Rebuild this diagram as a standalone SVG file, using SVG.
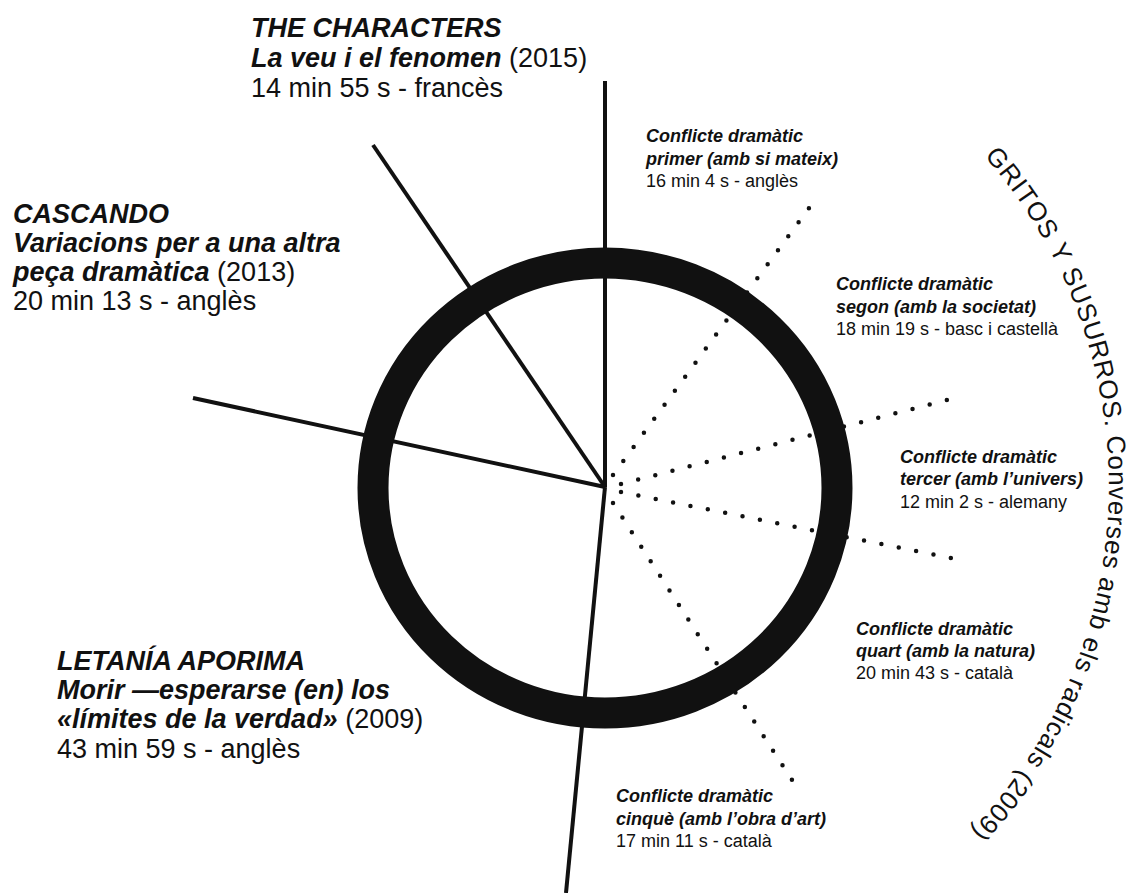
<svg xmlns="http://www.w3.org/2000/svg" width="1142" height="893" viewBox="0 0 1142 893">
<style>
text { font-family: "Liberation Sans", Arial, Helvetica, sans-serif; fill: #111; }
.big { font-size: 27px; }
.sm { font-size: 18px; }
.bi { font-weight: bold; font-style: italic; }
.ln { stroke: #111; stroke-width: 4; fill: none; }
.dots { stroke: #111; stroke-width: 4.5; stroke-linecap: round; stroke-dasharray: 0 1; fill: none; }
.arc { font-size: 26px; letter-spacing: 0.9px; }
</style>
<defs>
<path id="arcpath" d="M 984.3 156.2 A 499 499 0 0 1 859.5 918.1" fill="none"/>
</defs>
<rect width="1142" height="893" fill="#ffffff"/>
<g id="connectors">
<line class="ln" x1="605" y1="81" x2="605" y2="487"/>
<line class="ln" x1="373" y1="145" x2="605" y2="487"/>
<line class="ln" x1="193" y1="398" x2="605" y2="487"/>
<line class="ln" x1="605" y1="487" x2="566" y2="893"/>
<path class="dots" pathLength="19.01" d="M613 475 L809 208"/>
<path class="dots" pathLength="19.01" d="M621 484 L947 400"/>
<path class="dots" pathLength="19.01" d="M621 492 L951 558"/>
<path class="dots" pathLength="19.01" d="M613 503 L792 780"/>
</g>
<g id="ring">
<ellipse cx="605" cy="488" rx="232" ry="225" fill="none" stroke="#111" stroke-width="31"/>
</g>
<g id="the-characters">
<text class="big" x="251" y="37"><tspan class="bi">THE CHARACTERS</tspan></text>
<text class="big" x="251" y="67"><tspan class="bi">La veu i el fenomen</tspan> (2015)</text>
<text class="big" x="251" y="97">14 min 55 s - francès</text>
</g>
<g id="cascando">
<text class="big" x="13" y="223"><tspan class="bi">CASCANDO</tspan></text>
<text class="big" x="13" y="252"><tspan class="bi">Variacions per a una altra</tspan></text>
<text class="big" x="13" y="281"><tspan class="bi">peça dramàtica</tspan> (2013)</text>
<text class="big" x="13" y="310">20 min 13 s - anglès</text>
</g>
<g id="letania">
<text class="big" x="57" y="670"><tspan class="bi">LETANÍA APORIMA</tspan></text>
<text class="big" x="57" y="699"><tspan class="bi">Morir —esperarse (en) los</tspan></text>
<text class="big" x="57" y="728"><tspan class="bi">«límites de la verdad»</tspan> (2009)</text>
<text class="big" x="57" y="758">43 min 59 s - anglès</text>
</g>
<g id="conflicte-1">
<text class="sm bi" x="646" y="142">Conflicte dramàtic</text>
<text class="sm bi" x="646" y="165">primer (amb si mateix)</text>
<text class="sm" x="646" y="187">16 min 4 s - anglès</text>
</g>
<g id="conflicte-2">
<text class="sm bi" x="836" y="290">Conflicte dramàtic</text>
<text class="sm bi" x="836" y="313">segon (amb la societat)</text>
<text class="sm" x="836" y="335">18 min 19 s - basc i castellà</text>
</g>
<g id="conflicte-3">
<text class="sm bi" x="900" y="463">Conflicte dramàtic</text>
<text class="sm bi" x="900" y="485">tercer (amb l’univers)</text>
<text class="sm" x="900" y="508">12 min 2 s - alemany</text>
</g>
<g id="conflicte-4">
<text class="sm bi" x="856" y="635">Conflicte dramàtic</text>
<text class="sm bi" x="856" y="657">quart (amb la natura)</text>
<text class="sm" x="856" y="679">20 min 43 s - català</text>
</g>
<g id="conflicte-5">
<text class="sm bi" x="616" y="802">Conflicte dramàtic</text>
<text class="sm bi" x="616" y="825">cinquè (amb l’obra d’art)</text>
<text class="sm" x="616" y="847">17 min 11 s - català</text>
</g>
<g id="gritos">
<text class="arc"><textPath href="#arcpath" startOffset="0">GRITOS</textPath></text>
<text class="arc"><textPath href="#arcpath" startOffset="113.2">Y</textPath></text>
<text class="arc"><textPath href="#arcpath" startOffset="139.6">SUSURROS.</textPath></text>
<text class="arc"><textPath href="#arcpath" startOffset="310.4">Converses</textPath></text>
<text class="arc"><textPath href="#arcpath" startOffset="450.9">amb</textPath></text>
<text class="arc"><textPath href="#arcpath" startOffset="512.3">els</textPath></text>
<text class="arc"><textPath href="#arcpath" startOffset="556.3">radicals</textPath></text>
<text class="arc"><textPath href="#arcpath" startOffset="661.2">(2009)</textPath></text>
</g>
</svg>
